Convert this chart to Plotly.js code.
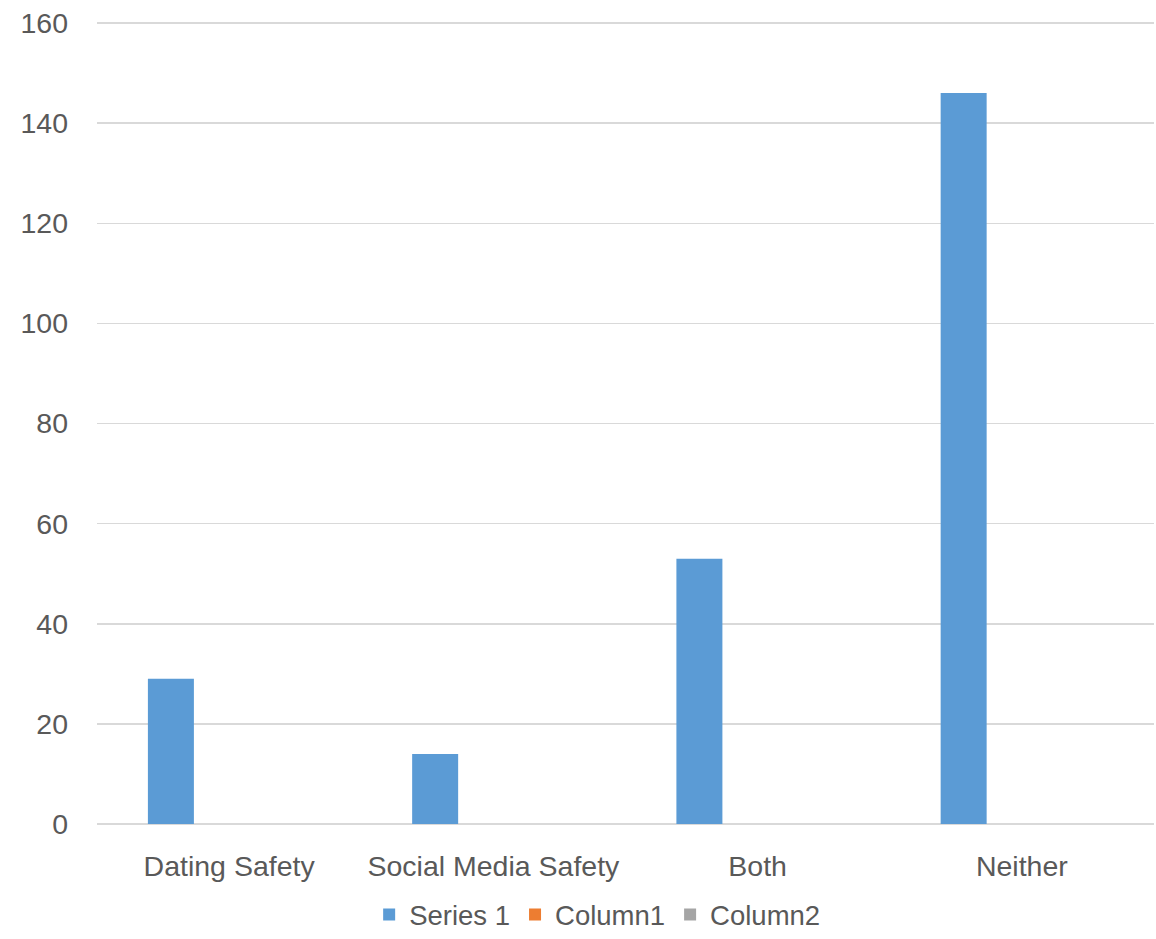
<!DOCTYPE html>
<html>
<head>
<meta charset="utf-8">
<script src="https://cdn.plot.ly/plotly-3.0.1.min.js"></script>
<style>html,body{margin:0;padding:0;background:#fff;}#chart{width:1156px;height:939px;}</style>
</head>
<body>
<div id="chart"></div>
<script>
const categories = ["Dating Safety", "Social Media Safety", "Both", "Neither"];
const series1 = [29, 14, 53, 146];
const column1 = [null, null, null, null];
const column2 = [null, null, null, null];
const seriesNames = ["Series 1", "Column1", "Column2"];
const seriesColors = ["#5B9BD5", "#ED7D31", "#A5A5A5"];
const yTicks = [0, 20, 40, 60, 80, 100, 120, 140, 160];

const font = "Liberation Sans, Arial, sans-serif";
const traces = [series1, column1, column2].map((vals, i) => ({
  type: "bar",
  x: categories,
  y: vals,
  name: seriesNames[i],
  marker: {color: seriesColors[i], line: {width: 0}},
  hoverinfo: "x+y+name"
}));

const layout = {
  width: 1156, height: 939,
  margin: {l: 97, r: 2, t: 18, b: 115},
  paper_bgcolor: "#ffffff", plot_bgcolor: "#ffffff",
  barmode: "group", bargap: 0.339, bargroupgap: 0.21,
  font: {family: font, color: "#595959", size: 28},
  xaxis: {
    type: "category", showgrid: false, zeroline: false, showline: false,
    ticks: "", tickfont: {size: 28.5, color: "#595959"}, ticklabelstandoff: 22
  },
  yaxis: {
    range: [0, 161], tickvals: yTicks, ticktext: yTicks.map(String),
    showgrid: true, gridcolor: "#d9d9d9", gridwidth: 1.5,
    zeroline: true, zerolinecolor: "#d9d9d9", zerolinewidth: 1.5,
    showline: false, ticks: "", tickfont: {size: 28.5, color: "#595959"},
    ticklabelstandoff: 28
  },
  showlegend: true,
  legend: {
    orientation: "h", xref: "container", yref: "container",
    x: 0.517, xanchor: "center", y: 0, yanchor: "bottom",
    font: {size: 27.5, color: "#595959"}, itemwidth: 30, traceorder: "normal"
  }
};

Plotly.newPlot("chart", traces, layout, {displayModeBar: false, staticPlot: true});
</script>
</body>
</html>
